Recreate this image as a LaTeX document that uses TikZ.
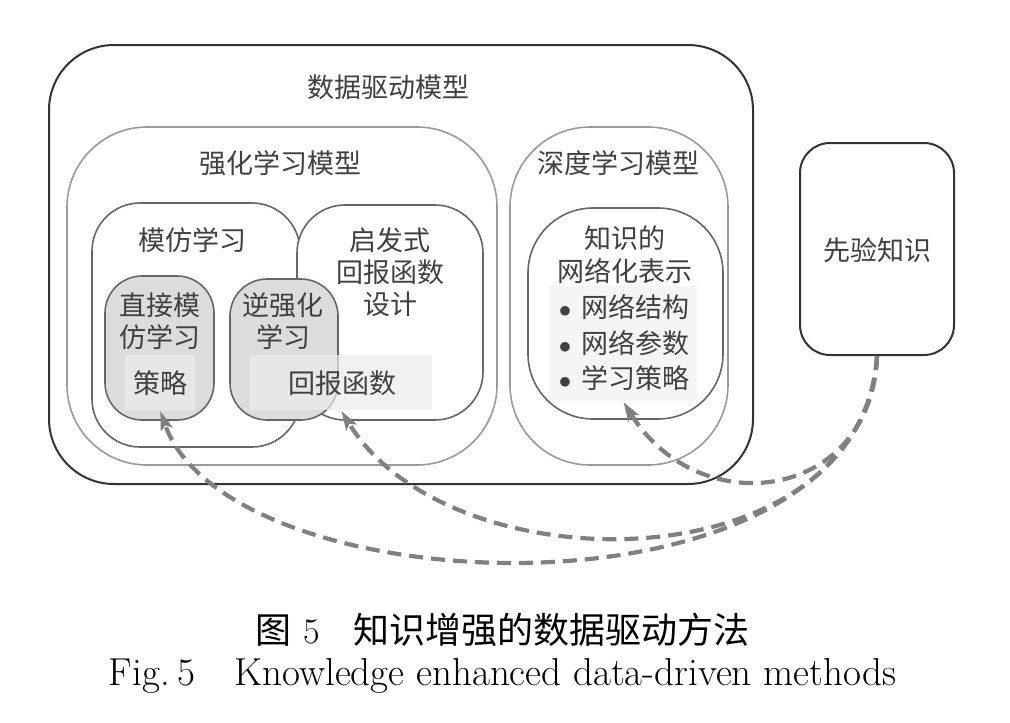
\documentclass[tikz,border=0pt]{standalone}
\usepackage{fontspec}
\newfontfamily\cjk{Noto Sans CJK SC}
\usepackage{tikz}
\usetikzlibrary{positioning,arrows.meta}
\definecolor{boxblack}{HTML}{333333}
\definecolor{boxgray}{HTML}{9A9A9A}
\definecolor{boxdark}{HTML}{666666}
\definecolor{methodfill}{HTML}{DCDCDC}
\definecolor{textfill}{HTML}{ECECEC}
\definecolor{listfill}{HTML}{F5F5F5}
\definecolor{linkgray}{HTML}{808080}
\definecolor{textgray}{HTML}{404040}

\begin{document}
\begin{tikzpicture}[x=1pt,y=-1pt]
  \tikzstyle{roundbox}=[rectangle, inner sep=0pt, fill=white]
  \tikzstyle{outerbox}=[roundbox, draw=boxblack, line width=2pt, rounded corners=65pt]
  \tikzstyle{modelbox}=[roundbox, draw=boxgray, line width=1.6pt, rounded corners=80pt]
  \tikzstyle{innerbox}=[roundbox, draw=boxdark, line width=1.6pt, rounded corners=48pt]
  \tikzstyle{methodbox}=[roundbox, draw=boxdark, line width=1.6pt, fill=methodfill, rounded corners=37pt]
  \tikzstyle{textbg}=[rectangle, inner sep=0pt, fill=textfill, fill opacity=0.7]
  \tikzstyle{word}=[text=textgray, font=\cjk\fontsize{27}{32}\selectfont, align=center, inner sep=0pt]
  \tikzstyle{link}=[-{Stealth[length=19pt,width=12pt,inset=4pt]}, shorten >=1pt, draw=linkgray,
    line width=4.2pt, dash pattern=on 14pt off 8pt]
  \useasboundingbox (0,0) rectangle (1010,723);

  % boxes
  \node[outerbox, minimum width=704pt, minimum height=439pt] (data) at (401,264.5) {};
  \node[modelbox, minimum width=430pt, minimum height=338pt] (rl) at (282,296) {};
  \node[modelbox, minimum width=218pt, minimum height=338pt] (dl) at (619,296) {};
  \node[innerbox, minimum width=208pt, minimum height=244pt] (imit) at (196,325) {};
  \node[innerbox, minimum width=186pt, minimum height=215pt] (heur) at (390,312.5) {};
  \node[innerbox, rounded corners=65pt, minimum width=195pt, minimum height=211pt] (net) at (625.5,313.5) {};
  \node[outerbox, rounded corners=30pt, minimum width=154pt, minimum height=212pt] (prior) at (877,249) {};
  \node[methodbox, minimum width=109pt, minimum height=144pt] (direct) at (159.5,348) {};
  \node[methodbox, minimum width=108pt, minimum height=141pt] (irl) at (284,349.5) {};
  \node[textbg, minimum width=70pt, minimum height=55pt] (policy) at (160,382.5) {};
  \node[textbg, minimum width=182pt, minimum height=55pt] (reward) at (341,382.5) {};
  \node[rectangle, inner sep=0pt, fill=listfill, minimum width=148pt, minimum height=115pt] (list) at (623,343.5) {};

  % texts
  \node[word] (data_t) at (388,87) {数据驱动模型};
  \node[word] (rl_t) at (280,163) {强化学习模型};
  \node[word] (dl_t) at (618,163) {深度学习模型};
  \node[word] (imit_t) at (192,240) {模仿学习};
  \node[word] (heur_t) at (390,272) {启发式\\回报函数\\设计};
  \node[word] (direct_t) at (160,321) {直接模\\仿学习};
  \node[word] (irl_t) at (283,321) {逆强化\\学习};
  \node[word] (policy_t) at (160,383) {策略};
  \node[word] (reward_t) at (342,383) {回报函数};
  \node[word, font=\cjk\fontsize{27}{33}\selectfont] (net_t) at (625,254.5) {知识的\\网络化表示};
  \node[word, align=left, font=\cjk\fontsize{27}{35.5}\selectfont] (list_t) at (624,343)
    {$\bullet$\hspace{10pt}网络结构\\$\bullet$\hspace{10pt}网络参数\\$\bullet$\hspace{10pt}学习策略};
  \node[word] (prior_t) at (877,250) {先验知识};

  % links
  \draw[link] (prior.south) .. controls (872,500) and (700,525) .. (list.south);
  \draw[link] (prior.south) .. controls (862,585) and (450,590) .. (reward.south);
  \draw[link] (prior.south) .. controls (862,630) and (230,610) .. (policy.south);

  % caption
  \node[inner sep=0pt, font=\fontsize{36}{40}\selectfont] (cap_zh) at (502.5,630)
    {{\cjk 图}\hspace{12pt}5\hspace{33pt}{\cjk 知识增强的数据驱动方法}};
  \node[inner sep=0pt, anchor=base, font=\fontsize{39}{44}\selectfont] (cap_en) at (502.5,685)
    {Fig.\hspace{0.2em}5\quad Knowledge enhanced data-driven methods};
\end{tikzpicture}
\end{document}
